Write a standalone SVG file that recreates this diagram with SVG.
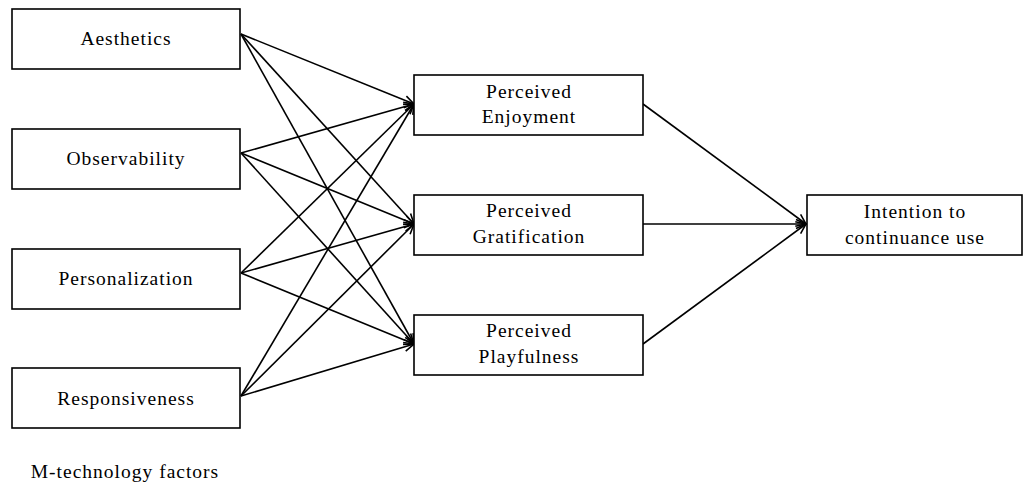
<svg xmlns="http://www.w3.org/2000/svg" width="1024" height="488" viewBox="0 0 1024 488">
<style>
.box{fill:#fff;stroke:#000;stroke-width:1.6}
.t{font-family:"Liberation Serif","DejaVu Serif",serif;font-size:19.5px;letter-spacing:1px;fill:#000;text-anchor:middle}
.c{stroke:#000;stroke-width:1.6;fill:none;marker-end:url(#ah)}
</style>
<defs>
<marker id="ah" markerUnits="userSpaceOnUse" markerWidth="14" markerHeight="12" refX="11" refY="6" orient="auto" viewBox="0 0 14 12">
<path d="M1,1.5 L11,6 L1,10.5" fill="none" stroke="#000" stroke-width="1.6"/>
</marker>
</defs>
<rect width="1024" height="488" fill="#fff"/>
<g id="connectors">
<line class="c" x1="241" y1="34" x2="414" y2="104"/>
<line class="c" x1="241" y1="34" x2="414" y2="224"/>
<line class="c" x1="241" y1="34" x2="414" y2="344"/>
<line class="c" x1="241" y1="153" x2="414" y2="104"/>
<line class="c" x1="241" y1="153" x2="414" y2="224"/>
<line class="c" x1="241" y1="153" x2="414" y2="344"/>
<line class="c" x1="241" y1="273" x2="414" y2="104"/>
<line class="c" x1="241" y1="273" x2="414" y2="224"/>
<line class="c" x1="241" y1="273" x2="414" y2="344"/>
<line class="c" x1="241" y1="396" x2="414" y2="104"/>
<line class="c" x1="241" y1="396" x2="414" y2="224"/>
<line class="c" x1="241" y1="396" x2="414" y2="344"/>
<line class="c" x1="643" y1="104" x2="806" y2="224"/>
<line class="c" x1="643" y1="224" x2="806" y2="224"/>
<line class="c" x1="643" y1="344" x2="806" y2="224"/>
</g>
<g id="aesthetics"><rect class="box" x="12" y="9" width="228" height="60"/><text class="t" x="126" y="45">Aesthetics</text></g>
<g id="observability"><rect class="box" x="12" y="129" width="228" height="60"/><text class="t" x="126" y="165">Observability</text></g>
<g id="personalization"><rect class="box" x="12" y="249" width="228" height="60"/><text class="t" x="126" y="285">Personalization</text></g>
<g id="responsiveness"><rect class="box" x="12" y="368" width="228" height="60"/><text class="t" x="126" y="405">Responsiveness</text></g>
<g id="enjoyment"><rect class="box" x="414" y="75" width="229" height="60"/><text class="t" x="529" y="98">Perceived</text><text class="t" x="529" y="123">Enjoyment</text></g>
<g id="gratification"><rect class="box" x="414" y="195" width="229" height="60"/><text class="t" x="529" y="217">Perceived</text><text class="t" x="529" y="243">Gratification</text></g>
<g id="playfulness"><rect class="box" x="414" y="315" width="229" height="60"/><text class="t" x="529" y="337">Perceived</text><text class="t" x="529" y="363">Playfulness</text></g>
<g id="intention"><rect class="box" x="807" y="195" width="215" height="60"/><text class="t" x="915" y="218">Intention to</text><text class="t" x="915" y="244">continuance use</text></g>
<g id="label"><text class="t" x="125" y="478">M-technology factors</text></g>
</svg>
